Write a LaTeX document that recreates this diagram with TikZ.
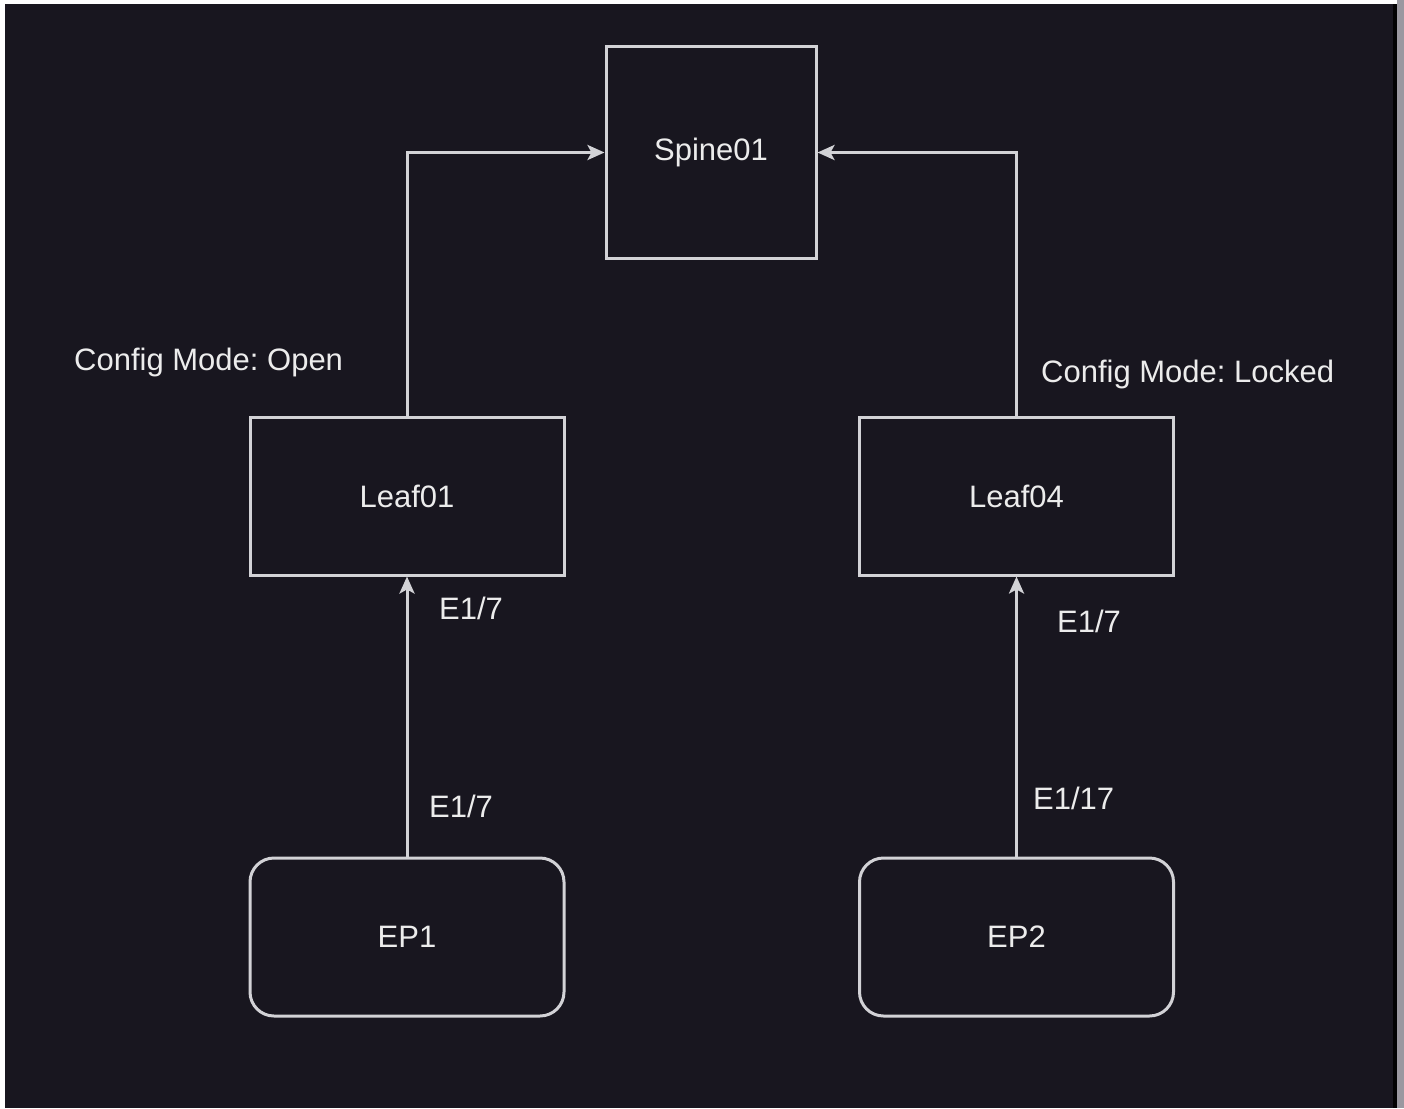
\documentclass[tikz,border=0pt]{standalone}
\usepackage{fontspec}
\setmainfont{Liberation Sans}
\usetikzlibrary{arrows.meta}
\definecolor{bgdark}{HTML}{18161F}
\definecolor{linec}{HTML}{D2D2D6}
\definecolor{txtc}{HTML}{ECECEC}
\definecolor{edgegray}{HTML}{9A98A0}
\frenchspacing
\begin{document}
\begin{tikzpicture}[x=1pt,y=-1pt,
  box/.style={draw=linec, line width=3pt, fill=bgdark, minimum width=314pt, minimum height=158pt, inner sep=0pt, text=txtc, font=\fontsize{31}{36}\selectfont\frenchspacing},
  sqbox/.style={box, minimum width=210pt, minimum height=211pt},
  epbox/.style={box, rounded corners=24pt},
  conn/.style={draw=linec, line width=3pt, -{Stealth[length=17pt,width=15pt,inset=4pt]}},
  lbl/.style={text=txtc, font=\fontsize{31}{36}\selectfont\frenchspacing, inner sep=0pt, anchor=west}]
\useasboundingbox (0,0) rectangle (1404,1108);
\fill[white] (0,0) rectangle (1404,1108);
\fill[bgdark] (5,4) rectangle (1397,1108);
\fill[black!90!bgdark] (1393,4) rectangle (1397,1108);
\fill[edgegray] (1397,0) rectangle (1404,1108);

\node[sqbox] (spine) at (711,152.5) {\raisebox{-2pt}{Spine01}};
\node[box] (leaf1) at (407,496) {Leaf01};
\node[box] (leaf4) at (1016.5,496) {Leaf04};
\node[epbox] (ep1) at (407,937) {EP1};
\node[epbox] (ep2) at (1016.5,937) {EP2};

\draw[conn] (leaf1.north) |- (spine.west);
\draw[conn] (leaf4.north) |- (spine.east);
\draw[conn] (ep1.north) -- (leaf1.south);
\draw[conn] (ep2.north) -- (leaf4.south);

\node[lbl] (cm1) at (74,362) {Config Mode: Open};
\node[lbl] (cm4) at (1041,374) {Config Mode: Locked};
\node[lbl] (l1a) at (439,608) {E1/7};
\node[lbl] (l1b) at (429,806) {E1/7};
\node[lbl] (l4a) at (1057,621) {E1/7};
\node[lbl] (l4b) at (1033,798) {E1/17};
\end{tikzpicture}
\end{document}
